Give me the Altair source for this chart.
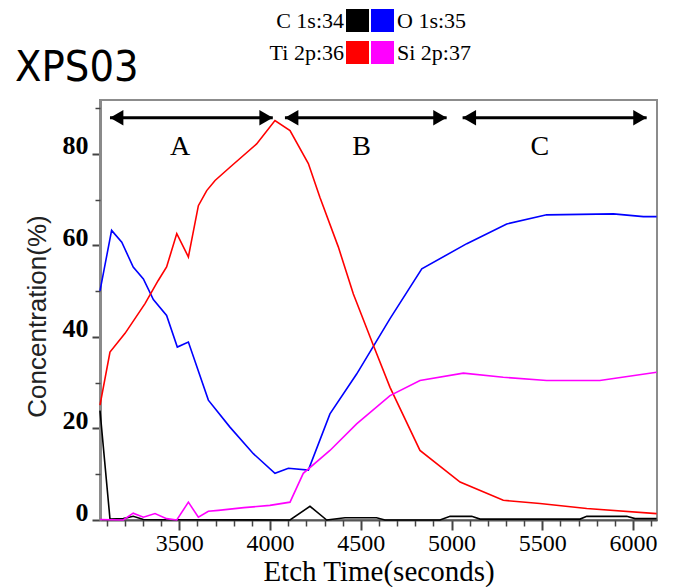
import altair as alt
import pandas as pd

# ---------------- data ----------------
series_names = ["C 1s:34", "O 1s:35", "Ti 2p:36", "Si 2p:37"]
series_colors = ["#000000", "#0000ff", "#ff0000", "#ff00ff"]

C_t = [3063, 3118, 3191, 3246, 3302, 4110, 4220, 4312, 4413, 4587, 4633, 4936,
       4992, 5111, 5157, 5708, 5745, 5965, 6011, 6130]
C_v = [23.9, 0.2, 0.3, 0.8, 0.1, 0.0, 3.0, 0.0, 0.5, 0.5, 0.0, 0.0,
       0.8, 0.8, 0.2, 0.2, 0.8, 0.8, 0.3, 0.3]

O_t = [3063, 3127, 3183, 3246, 3302, 3357, 3430, 3489, 3550, 3660, 3779, 3908,
       4027, 4101, 4211, 4330, 4477, 4661, 4836, 5084, 5304, 5524, 5892, 6057, 6130]
O_v = [50.1, 63.3, 60.7, 55.3, 52.7, 48.2, 44.7, 37.8, 38.9, 26.2, 20.3, 14.5,
       10.2, 11.3, 10.9, 23.2, 31.9, 44.0, 54.9, 60.4, 64.7, 66.7, 66.9, 66.3, 66.3]

Ti_t = [3063, 3118, 3201, 3311, 3383, 3430, 3486, 3550, 3605, 3651, 3697, 3779,
        3926, 4027, 4110, 4211, 4275, 4376, 4459, 4569, 4661, 4826, 5047, 5285,
        5487, 5745, 6130]
Ti_v = [25.1, 36.7, 40.8, 47.3, 52.3, 55.3, 62.6, 57.5, 68.7, 72.0, 74.2, 77.1,
        82.2, 87.3, 85.1, 77.9, 70.5, 59.7, 49.4, 38.2, 29.0, 15.2, 8.3, 4.3,
        3.6, 2.5, 1.4]

Si_t = [3063, 3191, 3246, 3302, 3366, 3430, 3486, 3550, 3605, 3660, 3715, 3856,
        3999, 4110, 4183, 4330, 4477, 4661, 4826, 5065, 5285, 5524, 5817, 6130]
Si_v = [0.1, 0.0, 1.5, 0.6, 1.4, 0.3, 0.0, 3.9, 0.6, 1.9, 2.1, 2.7,
        3.2, 3.9, 10.2, 15.2, 21.0, 27.2, 30.5, 32.1, 31.2, 30.5, 30.5, 32.3]

# region arrows and their letters
arrow_start = [3118, 4082, 5061]
arrow_end = [4015, 4973, 6075]
arrow_level = [87.9, 87.9, 87.9]
region_names = ["A", "B", "C"]
region_x = [3504, 4505, 5487]
region_y = [81.5, 81.5, 81.5]

x_major_ticks = [3500, 4000, 4500, 5000, 5500, 6000]
x_minor_ticks = [t for t in range(3100, 6101, 100) if t % 500 != 0]
y_major_ticks = [0, 20, 40, 60, 80]
y_minor_ticks = [10, 30, 50, 70, 90]

X_DOMAIN = [3063, 6132]
Y_DOMAIN = [0, 91.8]
W, H = 557, 420

# ---------------- build tables ----------------
rows = []
for name, ts, vs in zip(series_names, [C_t, O_t, Ti_t, Si_t], [C_v, O_v, Ti_v, Si_v]):
    for t, v in zip(ts, vs):
        rows.append({"series": name, "t": t, "c": v})
df = pd.DataFrame(rows)

arrows = pd.DataFrame({"x1": arrow_start, "x2": arrow_end, "y": arrow_level})
head_off = 37  # seconds, half the arrow-head length
heads_l = pd.DataFrame({"x": [s + head_off for s in arrow_start], "y": arrow_level})
heads_r = pd.DataFrame({"x": [e - head_off for e in arrow_end], "y": arrow_level})
labels = pd.DataFrame({"x": region_x, "y": region_y, "txt": region_names})

serif = "Liberation Serif"
sans = "Liberation Sans"

xs = alt.Scale(domain=X_DOMAIN, nice=False, zero=False)
ys = alt.Scale(domain=Y_DOMAIN, nice=False, zero=False)

x_major_axis = alt.Axis(
    values=x_major_ticks, orient="bottom", title="Etch Time(seconds)", format="d",
    labelFont=serif, labelFontSize=24, labelColor="black", labelPadding=1,
    labelOverlap=False, labelFlush=False,
    tickSize=10, tickWidth=2, tickColor="#444444",
    domainColor="#555555", domainWidth=2,
    titleFont=serif, titleFontSize=29, titleFontWeight="normal", titleColor="black",
    titleY=60, titleBaseline="alphabetic", grid=False)
y_major_axis = alt.Axis(
    values=y_major_ticks, orient="left", title="Concentration(%)",
    labelFont=serif, labelFontSize=26, labelFontWeight="bold", labelColor="black",
    labelBaseline="alphabetic", labelPadding=4, labelOverlap=False, labelFlush=False,
    tickSize=8, tickWidth=2, tickColor="#444444",
    domainColor="#8a8a8a", domainWidth=3,
    titleFont=sans, titleFontSize=26, titleFontWeight="normal", titleColor="#222222",
    titleAngle=270, titleX=-63, titleY=H / 2 + 6, titleAlign="center",
    titleBaseline="middle", grid=False)
x_minor_axis = alt.Axis(values=x_minor_ticks, orient="bottom", labels=False, title=None,
                        domain=False, tickSize=6, tickWidth=1.5, tickColor="#444444",
                        grid=False)
y_minor_axis = alt.Axis(values=y_minor_ticks, orient="left", labels=False, title=None,
                        domain=False, tickSize=5, tickWidth=1.5, tickColor="#444444",
                        grid=False)

lines = alt.Chart(df).mark_line(strokeWidth=1.6).encode(
    x=alt.X("t:Q", scale=xs, axis=x_major_axis),
    y=alt.Y("c:Q", scale=ys, axis=y_major_axis),
    color=alt.Color("series:N", scale=alt.Scale(domain=series_names, range=series_colors),
                    legend=None),
    detail="series:N",
)

shafts = alt.Chart(arrows).mark_rule(strokeWidth=3, color="black").encode(
    x=alt.X("x1:Q", scale=xs, axis=x_minor_axis),
    x2="x2:Q",
    y=alt.Y("y:Q", scale=ys, axis=y_minor_axis),
)

left_heads = alt.Chart(heads_l).mark_point(shape="triangle-left", size=240, filled=True,
                                           color="black", opacity=1).encode(
    x=alt.X("x:Q", scale=xs, axis=None), y=alt.Y("y:Q", scale=ys, axis=None))
right_heads = alt.Chart(heads_r).mark_point(shape="triangle-right", size=240, filled=True,
                                            color="black", opacity=1).encode(
    x=alt.X("x:Q", scale=xs, axis=None), y=alt.Y("y:Q", scale=ys, axis=None))

region_text = alt.Chart(labels).mark_text(font=serif, fontSize=28, color="black",
                                          baseline="middle", align="center").encode(
    x=alt.X("x:Q", scale=xs, axis=None), y=alt.Y("y:Q", scale=ys, axis=None),
    text="txt:N")

one = pd.DataFrame({"k": [0]})

title_mark = alt.Chart(one).mark_text(
    font="Liberation Sans Narrow, DejaVu Sans Condensed, Liberation Sans",
    fontSize=43, align="left", baseline="alphabetic", color="black").encode(
    x=alt.value(-85), y=alt.value(-19), text=alt.value("XPS03"))

# legend (two rows, labels outside the pair of swatches)
leg_layers = []
row_top = [-91, -59]
sw = 23
sq_x = [246, 271]
for i, (name, col) in enumerate(zip(series_names, series_colors)):
    r = i // 2
    c = i % 2
    leg_layers.append(alt.Chart(one).mark_rect(color=col).encode(
        x=alt.value(sq_x[c]), x2=alt.value(sq_x[c] + sw),
        y=alt.value(row_top[r]), y2=alt.value(row_top[r] + sw)))
    leg_layers.append(alt.Chart(one).mark_text(
        font=serif, fontSize=22, color="black", baseline="alphabetic",
        align="right" if c == 0 else "left").encode(
        x=alt.value(sq_x[0] - 2 if c == 0 else sq_x[1] + sw + 3),
        y=alt.value(row_top[r] + 19),
        text=alt.value(name)))

chart = alt.layer(
    lines, shafts, left_heads, right_heads, region_text, title_mark, *leg_layers
).properties(
    width=W, height=H,
    padding={"left": 92, "top": 92, "right": 10, "bottom": 67},
    autosize=alt.AutoSizeParams(type="none"),
).resolve_axis(
    x="independent", y="independent"
).configure_view(
    stroke="#8c8c8c", strokeWidth=2
).configure_axis(grid=False)

chart.save("out.html", embed_options={"renderer": "svg", "actions": False})
